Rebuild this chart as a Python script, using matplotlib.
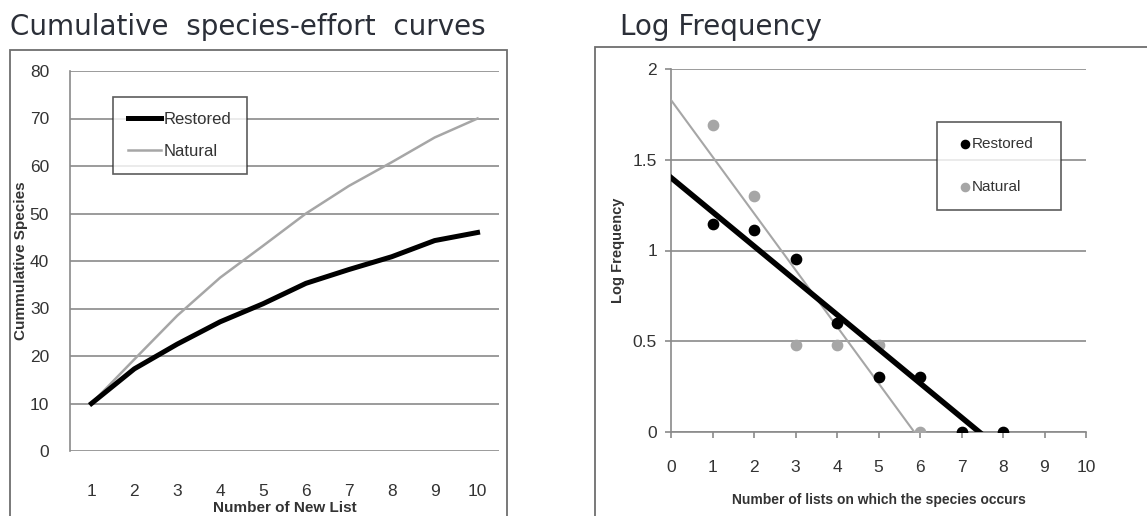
"""Species-effort curves and log-frequency fits, restored vs natural sites."""

import matplotlib

matplotlib.use("Agg")
import matplotlib.pyplot as plt
import numpy as np
from matplotlib.patches import Rectangle

# left panel: cumulative species per new list
lists = [1, 2, 3, 4, 5, 6, 7, 8, 9, 10]
restored_cum = [10, 17.3, 22.5, 27.2, 31, 35.3, 38.2, 40.9, 44.3, 46]
natural_cum = [10, 19.3, 28.5, 36.5, 43.2, 50, 55.8, 60.8, 66, 70]

# right panel: log frequency by number of lists a species occurs on
restored_x = [1, 2, 3, 4, 5, 6, 7, 8]
restored_log = [1.146, 1.114, 0.954, 0.602, 0.301, 0.301, 0, 0]
natural_x = [1, 2, 3, 4, 5, 6]
natural_log = [1.690, 1.301, 0.477, 0.477, 0.477, 0]

GRID = "#8a8a8a"
TXT = "#333333"
TICKFONT = "Liberation Sans"

W, H = 1147, 516
fig = plt.figure(figsize=(W / 100, H / 100), dpi=100)


def fx(px):
    return px / W


def fy(py):
    return 1 - py / H


# outer chart frames
for x0, y0, x1 in [(10, 50, 507), (595, 47, 1160)]:
    fig.patches.append(
        Rectangle((fx(x0), 0 - 0.01), fx(x1 - x0), fy(y0) + 0.01,
                  transform=fig.transFigure, fill=False, ec="#6e6e6e", lw=1.3)
    )

fig.text(fx(10), fy(27), "Cumulative  species-effort  curves", fontsize=20,
         color="#2b2f38", va="center", ha="left", family="DejaVu Sans")
fig.text(fx(620), fy(27), "Log Frequency", fontsize=20,
         color="#2b2f38", va="center", ha="left", family="DejaVu Sans")

# ---- left panel
ax1 = fig.add_axes([fx(70), fy(451), fx(499 - 70), fy(71) - fy(451)])
ax1.plot(lists, natural_cum, color="#a6a6a6", lw=1.8, label="Natural", zorder=3)
ax1.plot(lists, restored_cum, color="black", lw=3.6, label="Restored", zorder=4)
ax1.set_xlim(0.5, 10.5)
ax1.set_ylim(0, 80)
ax1.set_yticks(range(0, 81, 10))
ax1.set_xticks(lists)
ax1.yaxis.grid(True, color=GRID, lw=1.2)
ax1.set_axisbelow(True)
for s in ["top", "right", "bottom"]:
    ax1.spines[s].set_visible(False)
ax1.spines["left"].set_color(GRID)
ax1.spines["left"].set_linewidth(1.2)
ax1.tick_params(axis="y", length=0, pad=15, labelsize=12.5, labelcolor=TXT)
ax1.tick_params(axis="x", length=0, pad=24, labelsize=12.5, labelcolor=TXT)
for lab in ax1.get_xticklabels() + ax1.get_yticklabels():
    lab.set_family(TICKFONT)
ax1.set_xlabel("Number of New List", fontsize=11, fontweight="bold",
               color=TXT, labelpad=1, family=TICKFONT)
ax1.set_ylabel("Cummulative Species", fontsize=11, fontweight="bold",
               color=TXT, family=TICKFONT)
ax1.yaxis.set_label_coords(-0.098, 0.5)
h, l = ax1.get_legend_handles_labels()
leg1 = ax1.legend(h[::-1], l[::-1], loc="upper left",
                  bbox_to_anchor=((113 - 70) / 429, (451 - 97) / 380),
                  frameon=True, fancybox=False, edgecolor="#333333",
                  handlelength=2.0, handletextpad=0.15, borderaxespad=0,
                  labelspacing=1.0, borderpad=0.9,
                  prop={"family": TICKFONT, "size": 12})
leg1.get_frame().set_linewidth(1.2)
for t in leg1.get_texts():
    t.set_color(TXT)

# ---- right panel
ax2 = fig.add_axes([fx(671), fy(432), fx(1086 - 671), fy(69) - fy(432)])
ax2.scatter(restored_x, restored_log, s=55, color="black", zorder=5,
            label="Restored")
ax2.scatter(natural_x, natural_log, s=55, color="#a6a6a6", zorder=4,
            label="Natural")
xs = np.array([0, 10])
kr = np.polyfit(restored_x, restored_log, 1)
kn = np.polyfit(natural_x, natural_log, 1)
ax2.plot(xs, np.polyval(kn, xs), color="#a6a6a6", lw=1.5, zorder=3)
ax2.plot(xs, np.polyval(kr, xs), color="black", lw=4, zorder=6)
ax2.set_xlim(0, 10)
ax2.set_ylim(0, 2)
ax2.set_xticks(range(0, 11))
ax2.set_yticks([0, 0.5, 1, 1.5, 2])
ax2.set_yticklabels(["0", "0.5", "1", "1.5", "2"])
ax2.yaxis.grid(True, color=GRID, lw=1.2)
ax2.set_axisbelow(True)
for s in ["top", "right"]:
    ax2.spines[s].set_visible(False)
for s in ["left", "bottom"]:
    ax2.spines[s].set_color(GRID)
    ax2.spines[s].set_linewidth(1.2)
ax2.tick_params(axis="both", length=4, width=1.2, color=GRID,
                labelsize=12.5, labelcolor=TXT)
ax2.tick_params(axis="y", pad=6)
ax2.tick_params(axis="x", pad=16)
for lab in ax2.get_xticklabels() + ax2.get_yticklabels():
    lab.set_family(TICKFONT)
ax2.set_xlabel("Number of lists on which the species occurs", fontsize=10,
               fontweight="bold", color=TXT, labelpad=13, family=TICKFONT)
ax2.set_ylabel("Log Frequency", fontsize=10.5, fontweight="bold", color=TXT,
               family=TICKFONT)
ax2.yaxis.set_label_coords(-0.11, 0.5)
lx0 = (937 - 671) / 415
lx1 = (1061 - 671) / 415
ly1 = (432 - 122) / 363
leg2 = ax2.legend(loc="upper left", mode="expand",
                  bbox_to_anchor=(lx0, ly1 - 0.3, lx1 - lx0, 0.3),
                  frameon=True, fancybox=False, edgecolor="#333333",
                  handlelength=1.6, handletextpad=-0.3, labelspacing=1.9,
                  borderpad=1.0, borderaxespad=0, markerscale=0.8,
                  prop={"family": TICKFONT, "size": 11})
leg2.get_frame().set_linewidth(1.2)
for t in leg2.get_texts():
    t.set_color(TXT)

fig.savefig("out.png", dpi=100)
